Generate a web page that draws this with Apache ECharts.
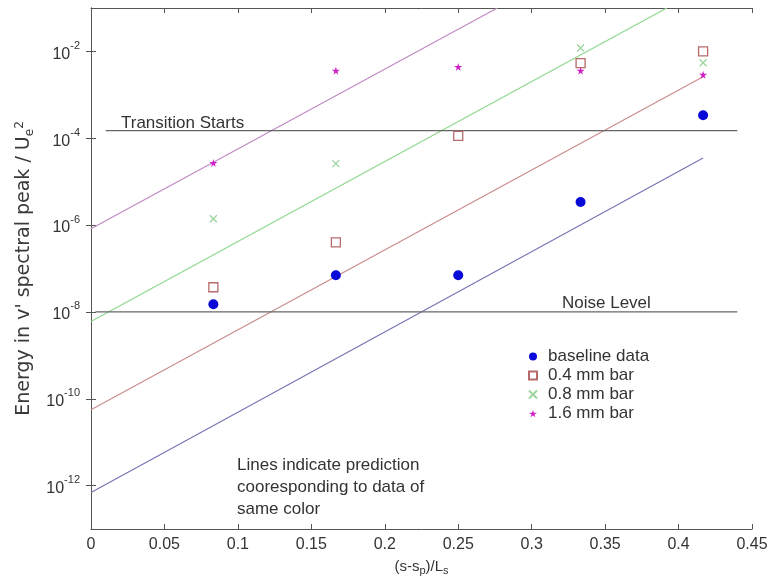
<!DOCTYPE html>
<html>
<head>
<meta charset="utf-8">
<script src="https://cdn.jsdelivr.net/npm/echarts@6/dist/echarts.min.js"></script>
<style>html,body{margin:0;padding:0;background:#fff}#c{width:772px;height:579px}</style>
</head>
<body>
<div id="c"></div>
<script>
// ---- data ----
const xPos = [0.0833, 0.1667, 0.25, 0.3333, 0.4167];
const baseline = [1.5e-8, 7e-8, 7e-8, 3.4e-6, 3.4e-4];
const bar04 = [3.7e-8, 4e-7, 1.13e-4, 5.4e-3, 1.0e-2];
const bar08X = [0.0833, 0.1667, 0.3333, 0.4167];
const bar08 = [1.4e-6, 2.6e-5, 1.2e-2, 5.5e-3];
const bar16 = [2.7e-5, 3.6e-3, 4.4e-3, 3.6e-3, 2.9e-3];

// prediction lines (end points)
const predBlueX = [0, 0.4167], predBlueY = [6.9e-13, 3.5e-5];
const predRedX = [0, 0.4167], predRedY = [5.6e-11, 2.6e-3];
const predGreenX = [0, 0.392], predGreenY = [6e-9, 1e-1];
const predMagX = [0, 0.2766], predMagY = [8.2e-7, 1e-1];

// reference levels
const transitionX = [0.01, 0.44], transitionLevel = 1.5e-4;
const noiseX = [0.003, 0.44], noiseLevel = 1e-8;

const yTicks = [1e-12, 1e-10, 1e-8, 1e-6, 1e-4, 1e-2];
const xTickInterval = 0.05;
const legendNames = ['baseline data', '0.4 mm bar', '0.8 mm bar', '1.6 mm bar'];

const zip = (xs, ys) => xs.map((x, i) => [x, ys[i]]);
const hline = (xs, v) => xs.map(x => [x, v]);

const FONT = '"Liberation Sans", Arial, Helvetica, sans-serif';
const TFONT = '"DejaVu Sans", "Liberation Sans", sans-serif';
const TXT = '#333';
const STAR = 'path://M50,0 L61,35 L98,35 L68,57 L79,91 L50,70 L21,91 L32,57 L2,35 L39,35 Z';
const CROSS = 'path://M0,0L10,10M10,0L0,10';

const chart = echarts.init(document.getElementById('c'), null, {renderer: 'canvas'});

const lineSeries = (name, data, color, width) => ({
  name, type: 'line', data, symbol: 'none', silent: true, z: 1,
  lineStyle: {color, width: width || 1.2}, clip: true, animation: false
});

const yTickStyle = {inside: false, length: -5, lineStyle: {color: '#555'}, customValues: yTicks};

chart.setOption({
  animation: false,
  backgroundColor: '#fff',
  textStyle: {fontFamily: FONT},
  grid: {left: 91, right: 20, top: 8, bottom: 50, containLabel: false, outerBoundsMode: 'none'},
  xAxis: [{
    type: 'value', min: 0, max: 0.45, interval: xTickInterval, position: 'bottom',
    name: '{b|(s-s}{s|p}{b|)/L}{s|s}', nameLocation: 'middle', nameGap: 28,
    nameTextStyle: {rich: {
      b: {fontSize: 15, color: TXT, fontFamily: FONT, verticalAlign: 'top', lineHeight: 18},
      s: {fontSize: 11, color: TXT, fontFamily: FONT, verticalAlign: 'bottom', lineHeight: 18, padding: [8, 0, 0, 0]}
    }},
    axisLine: {lineStyle: {color: '#555', width: 1}},
    axisTick: {inside: true, length: 5, lineStyle: {color: '#555'}},
    axisLabel: {fontSize: 16, color: TXT, margin: 8, fontFamily: FONT},
    splitLine: {show: false}
  }, {
    type: 'value', min: 0, max: 0.45, interval: xTickInterval, position: 'top',
    axisLine: {lineStyle: {color: '#555', width: 1}},
    axisTick: {inside: true, length: 5, lineStyle: {color: '#555'}},
    axisLabel: {show: false}, splitLine: {show: false}
  }],
  yAxis: [{
    type: 'log', logBase: 10, min: 1e-13, max: 1e-1, position: 'left',
    name: "{b|Energy in v' spectral peak / U}{s|e}{p|2}",
    nameLocation: 'middle', nameRotate: 90, nameGap: 30,
    nameTextStyle: {rich: {
      b: {fontSize: 19, color: '#3a3a3a', fontFamily: TFONT, lineHeight: 22},
      s: {fontSize: 12, color: '#3a3a3a', fontFamily: TFONT, verticalAlign: 'bottom', lineHeight: 22, padding: [9, 0, 0, 0]},
      p: {fontSize: 12, color: '#3a3a3a', fontFamily: TFONT, verticalAlign: 'top', lineHeight: 22, padding: [0, 0, 9, 0]}
    }},
    axisLine: {lineStyle: {color: '#555', width: 1}},
    axisTick: yTickStyle,
    minorTick: {show: false},
    axisLabel: {
      customValues: yTicks, margin: 11,
      formatter: v => '{b|10}{s|' + Math.round(Math.log10(v)) + '}',
      rich: {
        b: {fontSize: 16, color: TXT, fontFamily: FONT, lineHeight: 22, verticalAlign: 'bottom'},
        s: {fontSize: 11, color: TXT, fontFamily: FONT, lineHeight: 22, verticalAlign: 'top'}
      }
    },
    splitLine: {show: false}
  }, {
    type: 'log', logBase: 10, min: 1e-13, max: 1e-1, position: 'right',
    axisLine: {lineStyle: {color: '#555', width: 1}},
    axisTick: yTickStyle,
    minorTick: {show: false},
    axisLabel: {show: false}, splitLine: {show: false}
  }],
  legend: {
    orient: 'vertical', left: 523, top: 343, itemWidth: 8, itemHeight: 8, itemGap: 2,
    textStyle: {fontSize: 17, lineHeight: 17, color: TXT, fontFamily: FONT, padding: [0, 0, 0, 6]},
    data: [
      {name: legendNames[0], icon: 'circle'},
      {name: legendNames[1], icon: 'rect'},
      {name: legendNames[2], icon: CROSS},
      {name: legendNames[3], icon: STAR}
    ],
    selectedMode: false
  },
  graphic: [
    {type: 'text', left: 121, top: 115, z: 10, style: {text: 'Transition Starts', fontSize: 17, fill: TXT, fontFamily: FONT}},
    {type: 'text', left: 562, top: 295, z: 10, style: {text: 'Noise Level', fontSize: 17, fill: TXT, fontFamily: FONT}},
    {type: 'text', left: 237, top: 454, z: 10, style: {
      text: 'Lines indicate prediction\ncooresponding to data of\nsame color',
      fontSize: 17, lineHeight: 22, fill: TXT, fontFamily: FONT}}
  ],
  series: [
    lineSeries('predBlue', zip(predBlueX, predBlueY), '#7676b4'),
    lineSeries('predRed', zip(predRedX, predRedY), '#c98c8c'),
    lineSeries('predGreen', zip(predGreenX, predGreenY), '#8fd88f'),
    lineSeries('predMag', zip(predMagX, predMagY), '#c08ac4'),
    lineSeries('transition', hline(transitionX, transitionLevel), '#666', 1.3),
    lineSeries('noise', hline(noiseX, noiseLevel), '#666', 1.3),
    {
      name: legendNames[0], type: 'scatter', data: zip(xPos, baseline), z: 5,
      symbol: 'circle', symbolSize: 10, itemStyle: {color: '#0a0ad8', opacity: 1}
    },
    {
      name: legendNames[1], type: 'scatter', data: zip(xPos, bar04), z: 5,
      symbol: 'rect', symbolSize: 9,
      itemStyle: {color: '#fff', borderColor: '#b86a6a', borderWidth: 1.3, opacity: 1}
    },
    {
      name: legendNames[2], type: 'scatter', data: zip(bar08X, bar08), z: 5,
      symbol: CROSS, symbolSize: 7,
      itemStyle: {color: 'rgba(0,0,0,0)', borderColor: '#9ed49e', borderWidth: 1.3, opacity: 1}
    },
    {
      name: legendNames[3], type: 'scatter', data: zip(xPos, bar16), z: 5,
      symbol: STAR, symbolSize: 8, itemStyle: {color: '#d020c8', opacity: 1}
    }
  ]
});
</script>
</body>
</html>
